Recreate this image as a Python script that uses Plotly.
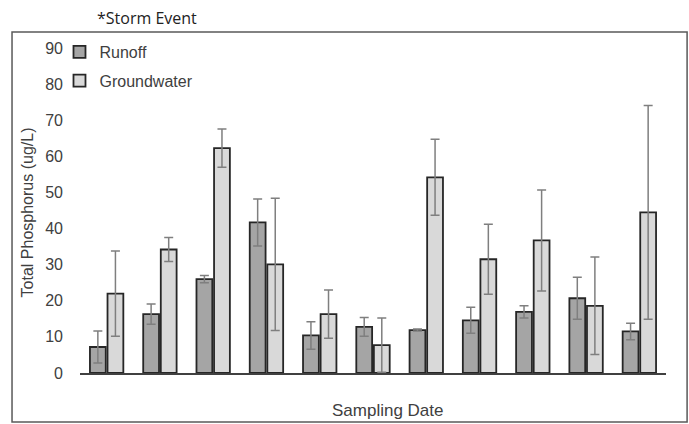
import plotly.graph_objects as go

dates = [f"D{i}" for i in range(1, 12)]
runoff = [7.2, 16.3, 26.0, 41.7, 10.4, 12.8, 11.9, 14.6, 16.9, 20.7, 11.5]
runoff_err = [4.4, 2.8, 1.0, 6.5, 3.8, 2.6, 0.3, 3.6, 1.7, 5.8, 2.3]
groundwater = [22.0, 34.2, 62.3, 30.1, 16.3, 7.7, 54.2, 31.5, 36.7, 18.6, 44.5]
groundwater_err = [11.8, 3.3, 5.3, 18.3, 6.7, 7.5, 10.5, 9.7, 14.0, 13.5, 29.6]
y_ticks = list(range(0, 100, 10))

err_style = dict(type="data", color="#7f7f7f", thickness=1.5, width=4.5)
line_style = dict(color="#262626", width=1.8)

fig = go.Figure()
fig.add_trace(go.Bar(
    x=dates, y=runoff, name="Runoff", legendgroup="a",
    marker=dict(color="#a5a5a5", line=line_style),
    error_y=dict(array=runoff_err, **err_style),
))
fig.add_trace(go.Bar(
    x=dates, y=groundwater, name="Groundwater", legendgroup="b",
    marker=dict(color="#d9d9d9", line=line_style),
    error_y=dict(array=groundwater_err, **err_style),
))

fig.update_layout(
    width=689, height=424,
    margin=dict(l=80, r=23, t=48, b=51),
    paper_bgcolor="white", plot_bgcolor="white",
    barmode="group", bargap=0.34, bargroupgap=0.1,
    font=dict(family="Liberation Sans, Arial", size=16, color="#404040"),
    showlegend=True,
    legend=dict(x=-0.035, y=1.04, xanchor="left", yanchor="top",
                bgcolor="rgba(0,0,0,0)", tracegroupgap=5,
                font=dict(size=16, color="#404040")),
    xaxis=dict(showticklabels=False, ticks="", showgrid=False,
               showline=True, linecolor="#404040", linewidth=1.5,
               range=[-0.5, 10.5]),
    yaxis=dict(range=[0, 90], tickvals=y_ticks, showgrid=False,
               showline=False, zeroline=False, ticks="", ticklabelstandoff=16,
               tickfont=dict(size=16, color="#404040")),
    annotations=[
        dict(text="*Storm Event", xref="paper", yref="paper", x=0.0256, y=1.092,
             xanchor="left", yanchor="middle", showarrow=False,
             font=dict(family="Open Sans", size=16, color="#222")),
        dict(text="Sampling Date", xref="paper", yref="paper", x=0.5256, y=-0.114,
             xanchor="center", yanchor="middle", showarrow=False,
             font=dict(size=17, color="#404040")),
        dict(text="Total Phosphorus (ug/L)", xref="paper", yref="paper", x=-0.090, y=0.495,
             xanchor="center", yanchor="middle", textangle=-90, showarrow=False,
             font=dict(size=16, color="#404040")),
    ],
    shapes=[
        dict(type="rect", xref="paper", yref="paper", x0=-0.116, x1=1.036,
             y0=-0.151, y1=1.049, line=dict(color="#595959", width=1.5)),
    ],
)

fig.write_html("out.html")
